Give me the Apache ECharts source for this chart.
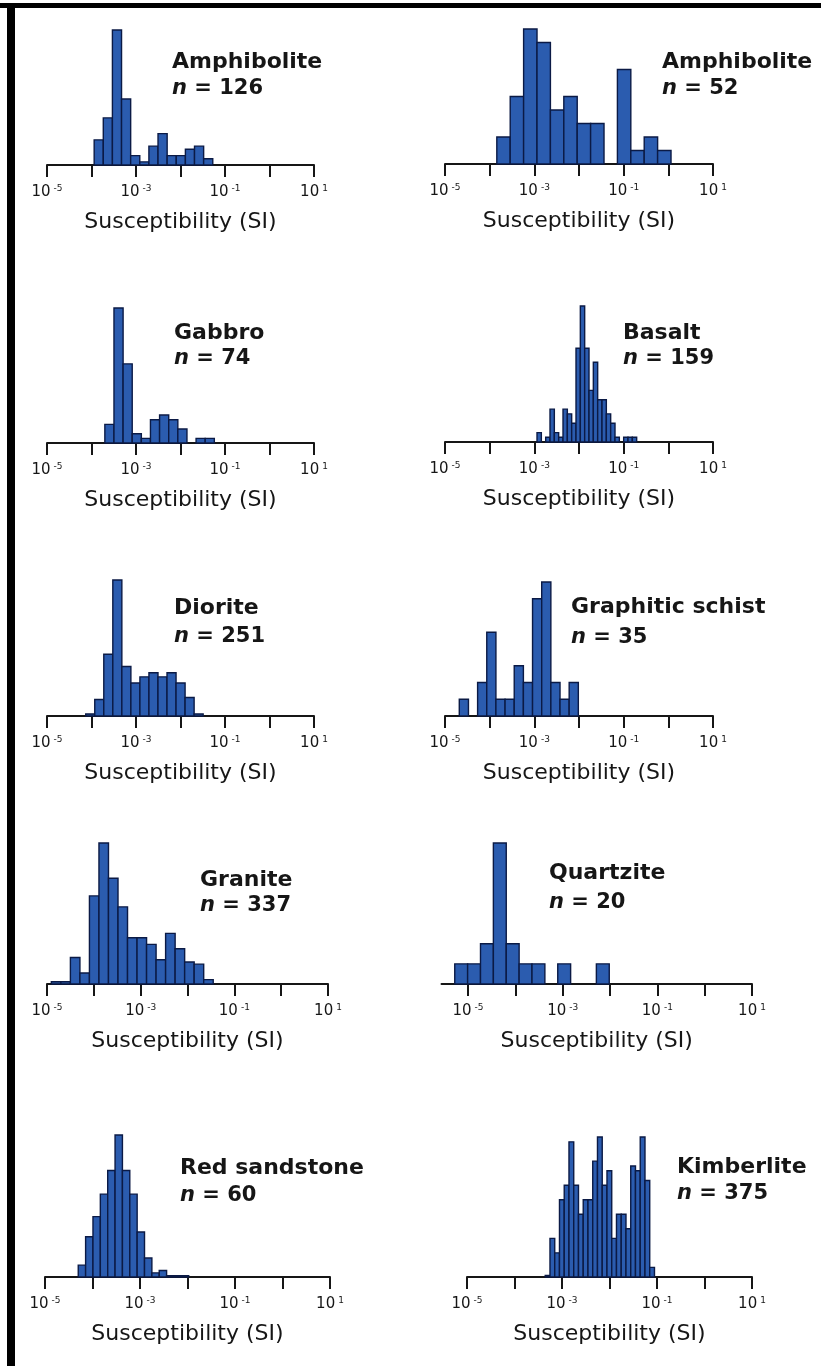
<!DOCTYPE html>
<html>
<head>
<meta charset="utf-8">
<script src="https://cdn.jsdelivr.net/npm/echarts@6/dist/echarts.min.js"></script>
<style>
  html, body { margin: 0; padding: 0; background: #ffffff; }
  #chart { width: 821px; height: 1366px; }
</style>
</head>
<body>
<div id="chart"></div>
<script>
// Magnetic susceptibility histograms by rock type (log10 of SI susceptibility on x)
const rockNames = ['Amphibolite', 'Amphibolite', 'Gabbro', 'Basalt', 'Diorite',
  'Graphitic schist', 'Granite', 'Quartzite', 'Red sandstone', 'Kimberlite'];
const sampleCounts = [126, 52, 74, 159, 251, 35, 337, 20, 60, 375];

// left edge of the first bin (log10 SI) and bin width (decades) for each histogram
const binStart = [-3.94, -3.84, -3.70, -2.94, -4.13, -4.68, -4.907, -5.28, -4.30, -3.353];
const binWidth = [0.205, 0.3, 0.205, 0.097, 0.203, 0.205, 0.2033, 0.272, 0.155, 0.1];

// samples per bin
const countsAmphiboliteA = [8, 15, 43, 21, 3, 1, 6, 10, 3, 3, 5, 6, 2];
const countsAmphiboliteB = [2, 5, 10, 9, 4, 5, 3, 3, 0, 7, 1, 2, 1];
const countsGabbro = [4, 29, 17, 2, 1, 5, 6, 5, 3, 0, 1, 1];
const countsBasalt = [2, 0, 1, 7, 2, 1, 7, 6, 4, 20, 29, 20, 11, 17, 9, 9, 6, 4, 1, 0, 1, 1, 1];
const countsDiorite = [1, 8, 30, 66, 24, 16, 19, 21, 19, 21, 16, 9, 1];
const countsSchist = [1, 0, 2, 5, 1, 1, 3, 2, 7, 8, 2, 1, 2];
const countsGranite = [1, 1, 12, 5, 40, 64, 48, 35, 21, 21, 18, 11, 23, 16, 10, 9, 2];
const countsQuartzite = [1, 1, 2, 7, 2, 1, 1, 0, 1, 0, 0, 1];
const countsSandstone = [1, 3.4, 5.1, 7, 9, 12, 9, 7, 3.8, 1.6, 0.35, 0.55, 0.12, 0.12, 0.12];
const countsKimberlite = [0.3, 8, 5, 16, 19, 28, 19, 13, 16, 16, 24, 29, 19, 22, 8, 13, 13, 10, 23, 22, 29, 20, 2];

const panelCounts = [countsAmphiboliteA, countsAmphiboliteB, countsGabbro, countsBasalt,
  countsDiorite, countsSchist, countsGranite, countsQuartzite, countsSandstone, countsKimberlite];

// axis ticks (decade exponents) and the ones that carry a label
const tickExponents = [-5, -4, -3, -2, -1, 0, 1];
const labelExponents = [-5, -3, -1, 1];
const axisTitle = 'Susceptibility (SI)';

// page layout of the ten panels (px): plot box, axis start, label anchors
const layout = [
  { left: 47,    width: 267,   base: 165,  height: 135, min: -5,    title: [172, 62],   n: [172, 89] },
  { left: 445,   width: 268,   base: 164,  height: 135, min: -5,    title: [662, 62],   n: [662, 89] },
  { left: 47,    width: 267,   base: 443,  height: 135, min: -5,    title: [174, 333],  n: [174, 359] },
  { left: 445,   width: 268,   base: 442,  height: 136, min: -5,    title: [623, 333],  n: [623, 359] },
  { left: 47,    width: 267,   base: 716,  height: 136, min: -5,    title: [174, 608],  n: [174, 637] },
  { left: 445,   width: 268,   base: 716,  height: 134, min: -5,    title: [571, 607],  n: [571, 638] },
  { left: 47,    width: 281,   base: 984,  height: 141, min: -5,    title: [200, 880],  n: [200, 906] },
  { left: 441.5, width: 310.5, base: 984,  height: 141, min: -5.56, title: [549, 873],  n: [549, 903] },
  { left: 45,    width: 285,   base: 1277, height: 142, min: -5,    title: [180, 1168], n: [180, 1196] },
  { left: 467,   width: 285,   base: 1277, height: 140, min: -5,    title: [677, 1167], n: [677, 1194] }
];

const ink = '#161616';
const barFill = '#2b5caf';
const barEdge = '#0b1a45';
const fontFamily = '"DejaVu Sans", "Liberation Sans", sans-serif';

function expLabel(v) {
  const e = Math.round(v);
  return '{b|10}{s|' + (e < 0 ? '-' : '') + Math.abs(e) + '}';
}

function renderBin(params, api) {
  const c = api.value(2);
  if (!c) return null;
  const p0 = api.coord([api.value(0), 0]);
  const p1 = api.coord([api.value(1), c]);
  return {
    type: 'rect',
    shape: { x: p0[0], y: p1[1], width: p1[0] - p0[0], height: p0[1] - p1[1] },
    style: { fill: barFill, stroke: barEdge, lineWidth: 1.4 }
  };
}

const grids = [], xAxes = [], yAxes = [], series = [], graphics = [];

layout.forEach((L, i) => {
  const counts = panelCounts[i];
  grids.push({ left: L.left, width: L.width, top: L.base - L.height, height: L.height, containLabel: false });
  xAxes.push({
    gridIndex: i, type: 'value', min: L.min, max: 1,
    axisLine: { show: true, onZero: false, lineStyle: { color: ink, width: 2 } },
    axisTick: { show: true, customValues: tickExponents, length: 12, inside: false,
      lineStyle: { color: ink, width: 2 } },
    axisLabel: {
      show: true, customValues: labelExponents, formatter: expLabel, margin: 19,
      rich: {
        b: { fontSize: 15, fontFamily: fontFamily, color: ink, lineHeight: 17 },
        s: { fontSize: 9, fontFamily: fontFamily, color: ink, verticalAlign: 'top', lineHeight: 17, padding: [0, 0, 6, 3] }
      }
    },
    splitLine: { show: false },
    name: axisTitle, nameLocation: 'middle', nameGap: 46,
    nameTextStyle: { fontSize: 22, fontFamily: fontFamily, color: ink }
  });
  yAxes.push({ gridIndex: i, type: 'value', min: 0, max: Math.max.apply(null, counts), show: false });
  series.push({
    type: 'custom', xAxisIndex: i, yAxisIndex: i,
    renderItem: renderBin,
    encode: { x: [0, 1], y: 2 },
    data: counts.map((c, k) => [binStart[i] + k * binWidth[i], binStart[i] + (k + 1) * binWidth[i], c])
  });
  graphics.push({
    type: 'text', x: L.title[0], y: L.title[1],
    style: { text: rockNames[i], fill: ink, fontSize: 22, fontWeight: 'bold', fontFamily: fontFamily,
      align: 'left', verticalAlign: 'middle' }
  });
  graphics.push({
    type: 'text', x: L.n[0], y: L.n[1],
    style: {
      text: '{i|n} = ' + sampleCounts[i], fill: ink, fontSize: 21, fontWeight: 'bold', fontFamily: fontFamily,
      align: 'left', verticalAlign: 'middle',
      rich: { i: { fontSize: 21, fontWeight: 'bold', fontStyle: 'italic', fontFamily: fontFamily, fill: ink } }
    }
  });
});

// black frame along the top and left edges
graphics.push({ type: 'rect', shape: { x: 0, y: 3, width: 821, height: 5 }, style: { fill: '#000' } });
graphics.push({ type: 'rect', shape: { x: 7, y: 3, width: 8, height: 1363 }, style: { fill: '#000' } });

const chart = echarts.init(document.getElementById('chart'), null, { renderer: 'canvas' });
chart.setOption({
  backgroundColor: '#ffffff',
  animation: false,
  grid: grids,
  xAxis: xAxes,
  yAxis: yAxes,
  series: series,
  graphic: graphics
});
</script>
</body>
</html>
